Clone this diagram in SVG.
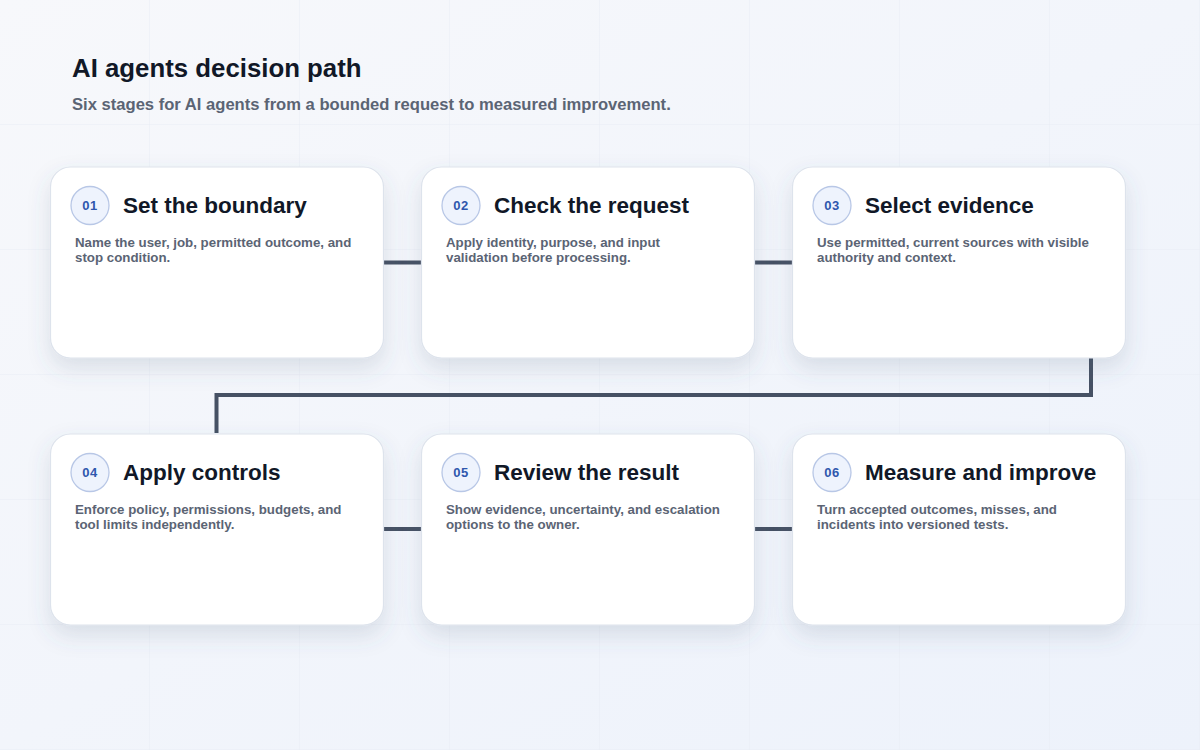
<svg xmlns="http://www.w3.org/2000/svg" width="1200" height="750" viewBox="0 0 1200 750">
  <defs>
    <linearGradient id="bg" x1="0" y1="0" x2="1" y2="1">
      <stop offset="0" stop-color="#f7f8fb"/>
      <stop offset="1" stop-color="#edf2fb"/>
    </linearGradient>
    <pattern id="grid" x="0" y="0" width="150" height="125" patternUnits="userSpaceOnUse">
      <path d="M150 0 V125 M0 125 H150" fill="none" stroke="#e8ecf4" stroke-width="1"/>
    </pattern>
    <filter id="shadow" x="-20%" y="-20%" width="140%" height="150%">
      <feDropShadow dx="0" dy="10" stdDeviation="11" flood-color="#51607c" flood-opacity="0.16"/>
    </filter>
  </defs>
  <style>
    .card { fill: #ffffff; stroke: #dde3ec; stroke-width: 1.2; filter: url(#shadow); }
    .badge { fill: #eef3fd; stroke: #b8c7e6; stroke-width: 1.3; }
    .num { font-family: "Liberation Sans", Arial, sans-serif; font-size: 13px; font-weight: 700; fill: #2f57ad; text-anchor: middle; letter-spacing: 0.5px; }
    .title { font-family: "Liberation Sans", Arial, sans-serif; font-size: 22.5px; font-weight: 700; fill: #111827; }
    .desc { font-family: "Liberation Sans", Arial, sans-serif; font-size: 13.3px; font-weight: 700; fill: #5b6474; }
    .conn { fill: none; stroke: #465164; stroke-width: 4; }
    .h1 { font-family: "Liberation Sans", Arial, sans-serif; font-size: 25.8px; font-weight: 700; fill: #111827; }
    .sub { font-family: "Liberation Sans", Arial, sans-serif; font-size: 16.6px; font-weight: 700; fill: #5b6474; }
  </style>
  <rect width="1200" height="750" fill="url(#bg)"/>
  <rect width="1200" height="750" fill="url(#grid)"/>

  <text class="h1" x="72" y="77">AI agents decision path</text>
  <text class="sub" x="72" y="110">Six stages for AI agents from a bounded request to measured improvement.</text>

  <g id="connectors">
    <path class="conn" d="M383 262.5 H421"/>
    <path class="conn" d="M754 262.5 H792"/>
    <path class="conn" d="M1091 358 V395 H216.5 V433"/>
    <path class="conn" d="M383 529 H421"/>
    <path class="conn" d="M754 529 H792"/>
  </g>

  <g id="node-01">
    <rect class="card" x="50.5" y="167" width="333" height="191" rx="20"/>
    <circle class="badge" cx="90" cy="205.5" r="19"/>
    <text class="num" x="90" y="210">01</text>
    <text class="title" x="123" y="213">Set the boundary</text>
    <text class="desc" x="75" y="247">Name the user, job, permitted outcome, and</text>
    <text class="desc" x="75" y="262">stop condition.</text>
  </g>

  <g id="node-02">
    <rect class="card" x="421.5" y="167" width="333" height="191" rx="20"/>
    <circle class="badge" cx="461" cy="205.5" r="19"/>
    <text class="num" x="461" y="210">02</text>
    <text class="title" x="494" y="213">Check the request</text>
    <text class="desc" x="446" y="247">Apply identity, purpose, and input</text>
    <text class="desc" x="446" y="262">validation before processing.</text>
  </g>

  <g id="node-03">
    <rect class="card" x="792.5" y="167" width="333" height="191" rx="20"/>
    <circle class="badge" cx="832" cy="205.5" r="19"/>
    <text class="num" x="832" y="210">03</text>
    <text class="title" x="865" y="213">Select evidence</text>
    <text class="desc" x="817" y="247">Use permitted, current sources with visible</text>
    <text class="desc" x="817" y="262">authority and context.</text>
  </g>

  <g id="node-04">
    <rect class="card" x="50.5" y="434" width="333" height="191" rx="20"/>
    <circle class="badge" cx="90" cy="472.5" r="19"/>
    <text class="num" x="90" y="477">04</text>
    <text class="title" x="123" y="480">Apply controls</text>
    <text class="desc" x="75" y="514">Enforce policy, permissions, budgets, and</text>
    <text class="desc" x="75" y="529">tool limits independently.</text>
  </g>

  <g id="node-05">
    <rect class="card" x="421.5" y="434" width="333" height="191" rx="20"/>
    <circle class="badge" cx="461" cy="472.5" r="19"/>
    <text class="num" x="461" y="477">05</text>
    <text class="title" x="494" y="480">Review the result</text>
    <text class="desc" x="446" y="514">Show evidence, uncertainty, and escalation</text>
    <text class="desc" x="446" y="529">options to the owner.</text>
  </g>

  <g id="node-06">
    <rect class="card" x="792.5" y="434" width="333" height="191" rx="20"/>
    <circle class="badge" cx="832" cy="472.5" r="19"/>
    <text class="num" x="832" y="477">06</text>
    <text class="title" x="865" y="480">Measure and improve</text>
    <text class="desc" x="817" y="514">Turn accepted outcomes, misses, and</text>
    <text class="desc" x="817" y="529">incidents into versioned tests.</text>
  </g>
</svg>
